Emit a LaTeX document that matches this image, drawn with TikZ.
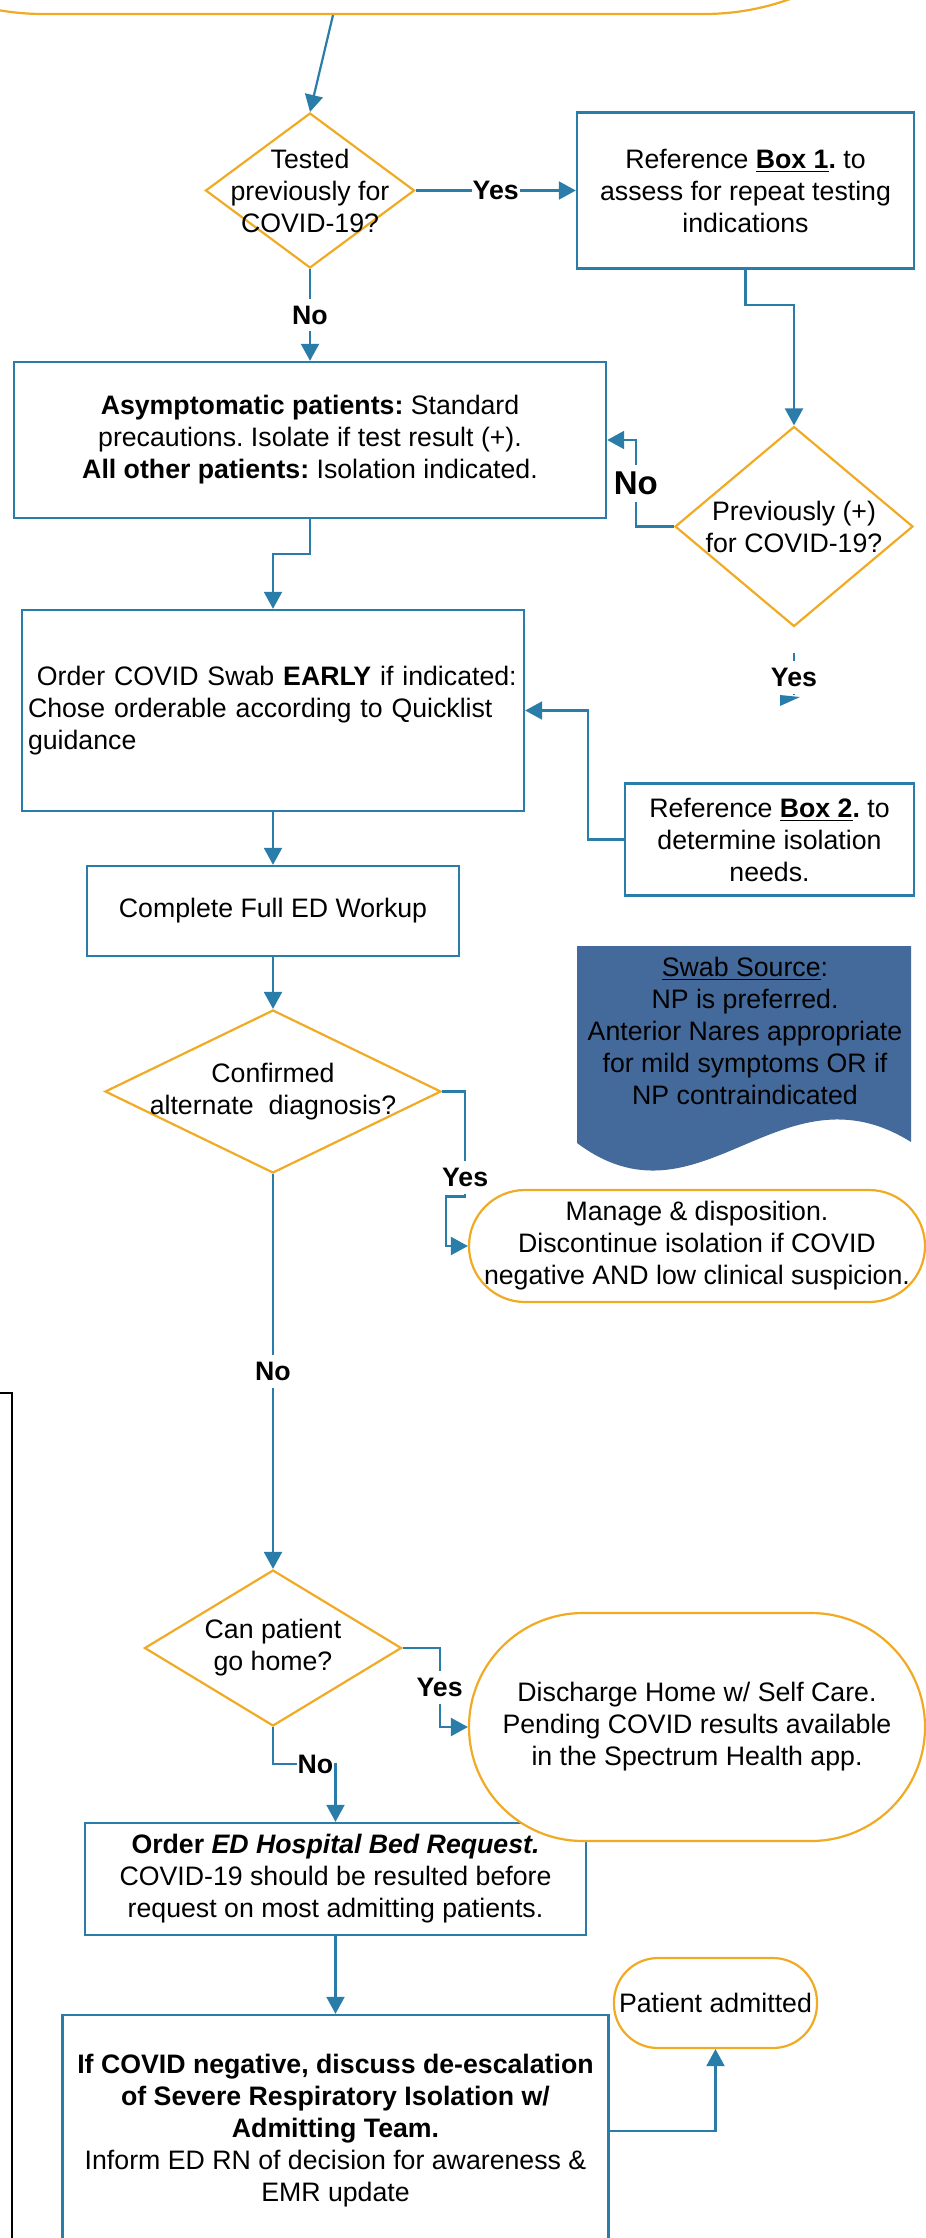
\documentclass[tikz,border=0pt]{standalone}
\usepackage{fontspec}
\setmainfont{Liberation Sans}
\frenchspacing
\usetikzlibrary{shapes.geometric, positioning, arrows.meta}

\definecolor{flowblue}{RGB}{42,125,168}
\definecolor{termorange}{RGB}{240,170,35}
\definecolor{swabblue}{RGB}{68,105,155}

\begin{document}
\begin{tikzpicture}[x=0.5pt, y=-0.5pt]
\tikzset{
>={Triangle[length=8.5pt, width=9pt]}, % filled arrow heads
every node/.style={font=\fontsize{13.35pt}{16pt}\selectfont, align=center}, % text of every node
process/.style={rectangle, draw=flowblue, line width=1.2pt, fill=white, inner sep=0pt}, % blue steps
decision/.style={diamond, draw=termorange, line width=1.1pt, inner sep=0pt}, % orange questions
terminal/.style={rectangle, draw=termorange, line width=1.1pt, fill=white, inner sep=0pt}, % orange ends
flow/.style={draw=flowblue, line width=1.1pt, ->}, % connectors
answer/.style={fill=white, inner xsep=0.5pt, inner ysep=3.5pt, font=\bfseries\fontsize{13.35pt}{16pt}\selectfont}, % Yes / No
}
	\useasboundingbox (0,0) rectangle (926,2238);

	% document shape behind the swab text
	\fill[swabblue] (577,946) -- (911,946) -- (911,1142) .. controls (780,1060) and (700,1235) .. (577,1143) -- cycle;
	% edge of a box cut off at the left
	\draw[line width=1.1pt] (-10,1393) -- (12,1393) -- (12,2260);

	\node[decision, minimum width=104.5pt, minimum height=77.5pt] (d1) at (310,190.5) {};
	\node (d1txt) at (d1) {Tested\\previously for\\COVID-19?};
	\node[terminal, minimum width=583.5pt, minimum height=300pt, rounded corners=126.5pt, above of=d1, node distance=238.25pt, xshift=31.75pt] (start) {};
	\node[process, minimum width=168.5pt, minimum height=78pt, right of=d1, node distance=217.75pt] (box1) {Reference \textbf{\underline{Box 1}.} to\\assess for repeat testing\\indications};
	\node[process, minimum width=296pt, minimum height=78pt, below of=d1, node distance=124.75pt] (box2) {\textbf{Asymptomatic patients:} Standard\\precautions. Isolate if test result (+).\\\textbf{All other patients:} Isolation indicated.};
	\node[decision, minimum width=119pt, minimum height=100pt, below of=box1, node distance=168pt, xshift=24.25pt] (d2) {};
	\node (d2txt) at (d2) {Previously (+)\\for COVID-19?};
	\node[process, text width=245pt, inner xsep=3pt, minimum height=100.5pt, align=left, below of=box2, node distance=135.25pt, xshift=-18.5pt] (box3) {\ Order COVID Swab \textbf{EARLY} if indicated:\\Chose orderable according to Quicklist\\guidance};
	\node[process, minimum width=144.5pt, minimum height=56pt, below of=d2, node distance=156.5pt, xshift=-12.25pt] (ref2) {Reference \textbf{\underline{Box 2}.} to\\determine isolation\\needs.};
	\node[process, minimum width=186pt, minimum height=45pt, below of=box3, node distance=100.25pt] (box4) {Complete Full ED Workup};
	\node[decision, minimum width=168pt, minimum height=81.5pt, below of=box4, node distance=90.25pt] (d3) {};
	\node (d3txt) at (d3) {Confirmed\\alternate\ \ diagnosis?};
	\node[below of=ref2, node distance=95.5pt, xshift=-12.25pt] (swab) {\underline{Swab Source}:\\NP is preferred.\\Anterior Nares appropriate\\for mild symptoms OR if\\NP contraindicated};
	\node[terminal, minimum width=228pt, minimum height=56pt, rounded corners=28pt, right of=d3, node distance=212pt, yshift=-77.25pt] (manage) {Manage \& disposition.\\Discontinue isolation if COVID\\negative AND low clinical suspicion.};
	\node[decision, minimum width=128.5pt, minimum height=78pt, below of=d3, node distance=278.25pt] (d4) {};
	\node (d4txt) at (d4) {Can patient\\go home?};
	\node[process, minimum width=250.5pt, minimum height=56pt, below of=d4, node distance=115.5pt, xshift=31.25pt] (box5) {\textbf{Order \textit{ED Hospital Bed Request.}}\\COVID-19 should be resulted before\\request on most admitting patients.};
	\node[terminal, minimum width=228pt, minimum height=114pt, rounded corners=57pt, below of=manage, node distance=240.5pt] (discharge) {Discharge Home w/ Self Care.\\Pending COVID results available\\in the Spectrum Health app.};
	\node[process, minimum width=273pt, minimum height=116pt, below of=box5, node distance=126pt] (box6) {\textbf{If COVID negative, discuss de-escalation}\\\textbf{of Severe Respiratory Isolation w/}\\\textbf{Admitting Team.}\\Inform ED RN of decision for awareness \&\\EMR update};
	\node[terminal, minimum width=101.5pt, minimum height=45pt, rounded corners=22pt, below of=discharge, node distance=138pt, xshift=9.25pt] (admitted) {Patient admitted};

	\draw[flow] ([xshift=-20.25pt]start.south) -- (d1.north);
	\draw[flow] (d1.east) -- node[answer]{Yes} (box1.west);
	\draw[flow] (d1.south) -- node[answer]{No} (box2.north);
	\draw[flow] (box1.south) -- ++(0,35) -| (d2.north);
	\draw[flow] (d2.west) -- ++(-38,0) |- node[answer, pos=0.25, font=\bfseries\fontsize{16.5pt}{19pt}\selectfont]{No} (box2.east);
	\coordinate (d2a) at ([yshift=-12.5pt]d2.south);
	\coordinate (d2b) at ([yshift=-33.5pt]d2.south);
	\draw[flow, -] (d2a) -- node[answer, pos=0.6]{Yes} (d2b);
	\fill[flowblue] (780,695) -- (800,697) -- (780,706) -- cycle;
	\draw[flow] (box2.south) -- ++(0,35) -| (box3.north);
	\draw[flow] (ref2.west) -- ++(-36,0) |- (box3.east);
	\draw[flow] (box3.south) -- (box4.north);
	\draw[flow] (box4.south) -- (d3.north);
	\draw[flow] (d3.east) -- ++(23,0) -- node[answer, pos=0.82]{Yes} ++(0,105) -- ++(-19,0) |- (manage.west);
	\draw[flow] (d3.south) -- node[answer]{No} (d4.north);
	\draw[flow] (d4.east) -- ++(37,0) |- node[answer, pos=0.25]{Yes} (discharge.west);
	\draw[flow] (d4.south) -- ++(0,37) -| node[answer, pos=0.34]{No} (box5.north);
	\draw[flow] (box5.south) -- (box6.north);
	\draw[flow] (box6.east) -| (admitted.south);
\end{tikzpicture}
\end{document}
